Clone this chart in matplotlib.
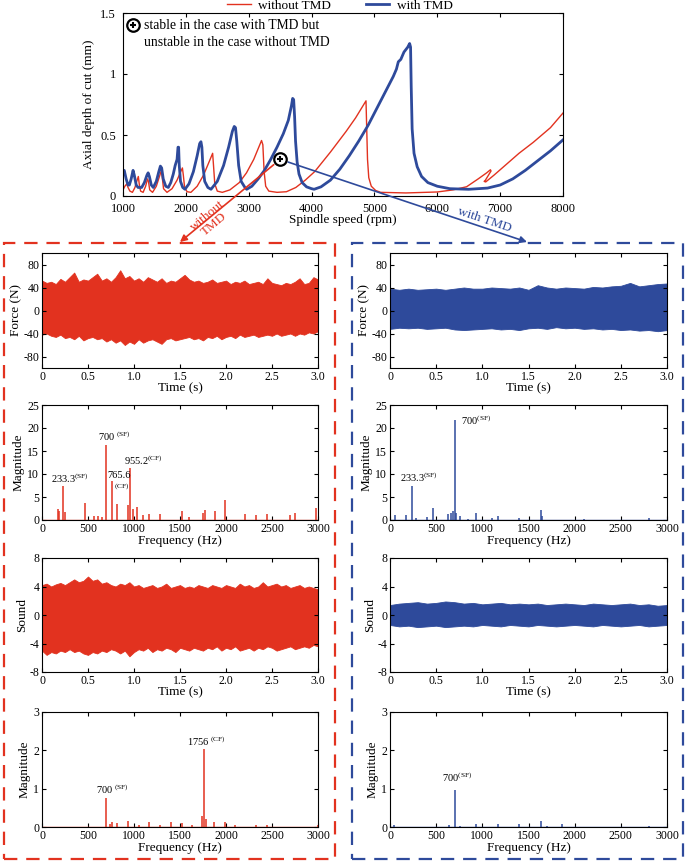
import matplotlib
matplotlib.use("Agg")
import matplotlib.pyplot as plt
from matplotlib.patches import Rectangle
from matplotlib.lines import Line2D
import numpy as np

plt.rcParams["font.family"] = ["Liberation Serif", "DejaVu Serif"]
plt.rcParams["mathtext.fontset"] = "custom"
plt.rcParams["mathtext.rm"] = "Liberation Serif"
plt.rcParams["axes.unicode_minus"] = False

RED = "#E2321F"
BLUE = "#2E4A9B"

# ---- stability lobes (rpm, mm) ----
red_rpm = [1000, 1030, 1060, 1080, 1110, 1150, 1190, 1225, 1244, 1258, 1280, 1320, 1360, 1390,
           1405, 1425, 1470, 1530, 1580, 1611, 1625, 1645, 1700, 1780, 1860, 1910, 1945, 1960,
           1980, 2020, 2080, 2180, 2280, 2370, 2426, 2440, 2460, 2500, 2580, 2700, 2850, 2965,
           3080, 3160, 3204, 3225, 3245, 3270, 3320, 3450, 3600, 3750, 3900, 4050, 4300, 4550,
           4700, 4866, 4875, 4890, 4910, 4950, 5020, 5100, 5500, 6000, 6250, 6467, 6650, 6786,
           6845, 6855, 6760, 6745, 6770, 6900, 7100, 7300, 7527, 7800, 8000]
red_depth = [0.05, 0.08, 0.10, 0.07, 0.04, 0.03, 0.07, 0.13, 0.16, 0.10, 0.04, 0.03, 0.08, 0.14,
             0.12, 0.05, 0.03, 0.08, 0.16, 0.21, 0.15, 0.06, 0.03, 0.06, 0.13, 0.19, 0.23, 0.17,
             0.07, 0.035, 0.03, 0.08, 0.17, 0.28, 0.35, 0.25, 0.10, 0.04, 0.03, 0.05, 0.11, 0.19,
             0.30, 0.40, 0.455, 0.42, 0.20, 0.08, 0.04, 0.03, 0.035, 0.07, 0.13, 0.20, 0.36, 0.53,
             0.64, 0.78, 0.60, 0.30, 0.15, 0.08, 0.045, 0.03, 0.025, 0.033, 0.05, 0.076, 0.14, 0.19,
             0.215, 0.205, 0.125, 0.12, 0.115, 0.17, 0.26, 0.35, 0.44, 0.56, 0.68]

blue_rpm = [1000, 1020, 1050, 1080, 1101, 1130, 1160, 1180, 1210, 1240, 1297, 1340, 1380, 1400,
            1420, 1450, 1482, 1530, 1570, 1595, 1615, 1640, 1680, 1721, 1760, 1800, 1830, 1860,
            1875, 1885, 1895, 1915, 1950, 1986, 2050, 2120, 2180, 2220, 2240, 2255, 2270, 2300,
            2350, 2400, 2500, 2600, 2680, 2740, 2770, 2790, 2810, 2840, 2880, 2940, 2968, 3050,
            3150, 3250, 3350, 3450, 3550, 3630, 3680, 3699, 3715, 3730, 3745, 3770, 3800, 3850,
            3920, 4000, 4040, 4150, 4300, 4450, 4600, 4750, 4900, 5050, 5200, 5300, 5350, 5380,
            5420, 5470, 5530, 5560, 5575, 5585, 5600, 5630, 5680, 5750, 5850, 6000, 6200, 6500,
            6800, 7000, 7200, 7400, 7600, 7800, 8000]
blue_depth = [0.20, 0.21, 0.14, 0.09, 0.09, 0.14, 0.21, 0.17, 0.09, 0.07, 0.07, 0.11, 0.17, 0.19,
              0.16, 0.09, 0.07, 0.12, 0.20, 0.245, 0.23, 0.14, 0.08, 0.07, 0.11, 0.18, 0.25, 0.30,
              0.40, 0.40, 0.25, 0.12, 0.07, 0.055, 0.10, 0.20, 0.33, 0.43, 0.445, 0.40, 0.25, 0.12,
              0.07, 0.055, 0.12, 0.25, 0.40, 0.53, 0.57, 0.56, 0.45, 0.25, 0.12, 0.07, 0.055, 0.08,
              0.14, 0.21, 0.30, 0.40, 0.51, 0.62, 0.74, 0.80, 0.79, 0.65, 0.45, 0.28, 0.18, 0.11,
              0.075, 0.06, 0.055, 0.075, 0.13, 0.22, 0.33, 0.45, 0.58, 0.73, 0.88, 0.98, 1.04, 1.10,
              1.12, 1.18, 1.22, 1.25, 1.22, 0.90, 0.55, 0.35, 0.24, 0.16, 0.11, 0.08, 0.06, 0.055,
              0.065, 0.09, 0.14, 0.21, 0.29, 0.37, 0.46]

test_rpm, test_depth = 3500, 0.30

# ---- time signal envelopes ----
t_fine = np.linspace(0, 3.0, 61)
t_coarse = np.linspace(0, 3.0, 31)

force_red_up = [52, 48, 50, 46, 55, 50, 58, 66, 50, 54, 52, 58, 64, 52, 56, 50, 58, 70, 56, 60,
                52, 56, 50, 58, 54, 50, 56, 48, 52, 50, 56, 62, 54, 50, 52, 48, 50, 54, 48, 50,
                52, 46, 50, 48, 52, 46, 48, 50, 46, 56, 48, 46, 44, 48, 46, 50, 56, 46, 48, 58, 54]
force_red_lo = [-42, -40, -44, -46, -42, -48, -46, -50, -44, -52, -48, -46, -50, -48, -54, -50,
                -56, -52, -60, -54, -58, -50, -56, -52, -50, -54, -58, -50, -48, -52, -50, -48,
                -46, -50, -48, -52, -46, -48, -44, -50, -46, -44, -48, -42, -46, -44, -42, -46,
                -44, -42, -44, -40, -44, -42, -40, -44, -40, -42, -38, -40, -36]

sound_red_up = [4.2, 4.4, 4.0, 4.3, 4.5, 4.2, 4.6, 5.0, 4.6, 4.8, 5.4, 4.8, 5.0, 4.4, 4.6, 4.2,
                4.0, 4.4, 4.2, 4.6, 4.0, 4.2, 3.8, 4.0, 4.2, 3.8, 4.0, 4.4, 3.8, 4.0, 4.2, 3.8,
                4.0, 3.8, 4.2, 4.0, 3.8, 4.2, 4.0, 3.8, 4.2, 4.0, 3.8, 4.4, 4.0, 4.2, 3.8, 4.0,
                4.6, 4.0, 4.2, 4.4, 4.0, 4.2, 3.8, 4.0, 4.2, 3.8, 4.0, 3.8, 3.6]
sound_red_lo = [-5.0, -5.6, -5.2, -5.4, -5.0, -5.2, -4.8, -5.2, -5.0, -5.4, -5.6, -5.2, -5.4,
                -5.0, -5.2, -4.8, -5.0, -5.4, -5.0, -5.8, -5.2, -4.8, -5.0, -4.6, -5.2, -4.8,
                -5.0, -4.6, -4.8, -5.2, -4.6, -4.8, -5.0, -4.6, -4.8, -5.0, -4.6, -4.8, -4.4,
                -5.0, -4.6, -4.8, -4.4, -5.0, -4.8, -4.6, -5.0, -4.6, -4.8, -4.4, -4.6, -5.0,
                -4.8, -4.6, -4.4, -4.8, -4.6, -4.4, -4.6, -4.2, -4.4]

force_blue_up = [38, 36, 38, 36, 37, 38, 36, 38, 40, 38, 38, 40, 39, 38, 40, 36, 44, 40, 38, 40,
                 39, 38, 41, 40, 42, 43, 48, 42, 44, 46, 47]
force_blue_lo = [-32, -30, -31, -30, -32, -31, -30, -33, -34, -33, -32, -31, -33, -32, -34, -31,
                 -30, -32, -29, -31, -30, -32, -31, -33, -32, -34, -33, -35, -34, -36, -34]

sound_blue_up = [1.4, 1.6, 1.7, 1.8, 1.6, 1.7, 1.9, 1.8, 1.6, 1.7, 1.5, 1.6, 1.7, 1.5, 1.6, 1.5,
                 1.6, 1.4, 1.5, 1.6, 1.5, 1.4, 1.6, 1.5, 1.4, 1.5, 1.6, 1.4, 1.5, 1.3, 1.4]
sound_blue_lo = [-1.4, -1.6, -1.5, -1.7, -1.6, -1.5, -1.7, -1.6, -1.5, -1.6, -1.4, -1.5, -1.6,
                 -1.4, -1.5, -1.6, -1.4, -1.5, -1.6, -1.5, -1.4, -1.5, -1.6, -1.4, -1.5, -1.6,
                 -1.5, -1.4, -1.6, -1.5, -1.4]

# ---- spectrum peaks (Hz, magnitude) ----
fspec_red_f = [0, 170, 190, 233, 250, 466, 560, 610, 650, 700, 765, 820, 930, 955, 990, 1030,
               1100, 1166, 1280, 1520, 1600, 1750, 1770, 1880, 1990, 2210, 2330, 2450, 2700,
               2750, 2980]
fspec_red_m = [8.6, 2.5, 2.0, 7.4, 1.7, 3.6, 0.8, 0.8, 0.6, 16.2, 8.4, 3.5, 3.3, 11.3, 2.3, 2.8,
               1.0, 1.3, 1.2, 1.9, 0.6, 1.5, 2.2, 1.9, 4.3, 1.3, 1.0, 1.4, 1.0, 1.5, 2.6]

fspec_blue_f = [0, 50, 170, 233, 280, 400, 466, 630, 660, 680, 700, 720, 760, 850, 933, 1100,
                1166, 1400, 1630, 1650, 2100, 2800]
fspec_blue_m = [8.5, 1.1, 1.0, 7.3, 0.4, 0.7, 2.7, 1.2, 1.5, 2.0, 21.8, 1.6, 0.8, 0.3, 1.6, 0.5,
                0.8, 0.4, 2.2, 0.8, 0.2, 0.5]

sspec_red_f = [700, 740, 760, 820, 930, 1050, 1166, 1280, 1400, 1520, 1630, 1740, 1756, 1780,
               1870, 1990, 2100, 2330, 2450, 3000]
sspec_red_m = [0.76, 0.08, 0.13, 0.10, 0.16, 0.05, 0.12, 0.05, 0.12, 0.11, 0.05, 0.3, 2.04, 0.2,
               0.12, 0.13, 0.04, 0.05, 0.04, 0.04]

sspec_blue_f = [40, 640, 700, 760, 930, 1166, 1400, 1630, 1700, 1860, 2800]
sspec_blue_m = [0.05, 0.06, 0.97, 0.03, 0.08, 0.08, 0.08, 0.15, 0.03, 0.07, 0.02]

W, H = 685, 864
fig = plt.figure(figsize=(W / 100, H / 100), dpi=100)


def px_axes(l, t, r, b):
    return fig.add_axes([l / W, 1 - b / H, (r - l) / W, (b - t) / H])


def style(ax, fs=8.5):
    ax.tick_params(direction="in", top=True, right=True, labelsize=fs, length=3, pad=2)
    for s in ax.spines.values():
        s.set_linewidth(0.8)


# ---- top: stability lobes ----
ax0 = px_axes(123, 13, 563, 196)
ax0.plot(red_rpm, red_depth, color=RED, lw=1.0)
ax0.plot(blue_rpm, blue_depth, color=BLUE, lw=2.0)
ax0.set_xlim(1000, 8000)
ax0.set_ylim(0, 1.5)
ax0.set_xticks(range(1000, 8001, 1000))
ax0.set_yticks([0, 0.5, 1, 1.5])
ax0.set_yticklabels(["0", "0.5", "1", "1.5"])
ax0.set_xlabel("Spindle speed (rpm)", fontsize=9.5, labelpad=-1)
ax0.set_ylabel("Axial depth of cut (mm)", fontsize=9.5, labelpad=4)
style(ax0, 9)
ax0.tick_params(axis="x", pad=5)
ax0.tick_params(axis="y", pad=5)
for x, y in [(test_rpm, test_depth), (1164, 1.40)]:
    ax0.plot(x, y, "o", ms=9, mfc="white", mec="black", mew=1.6, zorder=6)
    ax0.plot(x, y, "+", ms=5, color="black", mew=1.5, zorder=7)
ax0.text(1330, 1.40, "stable in the case with TMD but", fontsize=9.8, va="center")
ax0.text(1330, 1.26, "unstable in the case without TMD", fontsize=9.8, va="center")

handles = [Line2D([], [], color=RED, lw=1.0), Line2D([], [], color=BLUE, lw=2.0)]
fig.legend(handles, ["without TMD", "with TMD"], loc="center", ncol=2, frameon=False,
           bbox_to_anchor=(340 / W, 1 - 6 / H), fontsize=9.5, handlelength=1.8,
           columnspacing=2.6, borderpad=0, handletextpad=0.6)

# arrows from test point to panels
for dest, col in [((180, 242), RED), ((527, 242), BLUE)]:
    ax0.annotate("", xy=(dest[0] / W, 1 - dest[1] / H), xycoords="figure fraction",
                 xytext=(test_rpm, test_depth), textcoords="data",
                 arrowprops=dict(arrowstyle="-|>", color=col, lw=1.2, mutation_scale=10,
                                 shrinkA=6, shrinkB=0), annotation_clip=False)
fig.text(211 / W, 1 - 220 / H, "without\nTMD", color=RED, fontsize=9.5, rotation=40,
         ha="center", va="center", linespacing=0.9)
fig.text(484 / W, 1 - 220 / H, "with TMD", color=BLUE, fontsize=9.5, rotation=-18.5,
         ha="center", va="center")

# dashed frames
for (l, r), col in [((4, 335), RED), ((352, 683), BLUE)]:
    fig.patches.append(Rectangle((l / W, 1 - 859 / H), (r - l) / W, (859 - 243) / H,
                                 transform=fig.transFigure, fill=False, ec=col, lw=1.6,
                                 ls=(0, (6, 4)), zorder=0))

rows = [(253, 368), (405, 520), (558, 672), (712, 827)]
cols = [(42, 318), (390, 667)]

time_ticks = [0, 0.5, 1.0, 1.5, 2.0, 2.5, 3.0]
time_labels = ["0", "0.5", "1.0", "1.5", "2.0", "2.5", "3.0"]


def time_panel(ax, t, up, lo, col, ylim, yticks, ylabel):
    ax.fill_between(t, lo, up, color=col, lw=0.6, edgecolor=col)
    ax.set_xlim(0, 3.0)
    ax.set_ylim(*ylim)
    ax.set_xticks(time_ticks)
    ax.set_xticklabels(time_labels)
    ax.set_yticks(yticks)
    ax.set_xlabel("Time (s)", fontsize=9.5, labelpad=0)
    ax.set_ylabel(ylabel, fontsize=9.5, labelpad=1)
    style(ax)


def spec_panel(ax, f, m, col, ymax, yticks, labels):
    ax.axhline(0.004 * ymax, color=col, lw=1.0)
    ax.vlines(f, 0, m, color=col, lw=1.1)
    ax.set_xlim(0, 3000)
    ax.set_ylim(0, ymax)
    ax.set_xticks(range(0, 3001, 500))
    ax.set_yticks(yticks)
    ax.set_xlabel("Frequency (Hz)", fontsize=9.5, labelpad=0)
    ax.set_ylabel("Magnitude", fontsize=9.5, labelpad=2)
    for x, y, s in labels:
        ax.text(x, y, s, fontsize=7.5, ha="left", va="bottom")
    style(ax)


# left column: without TMD
l, r = cols[0]
a = px_axes(l, rows[0][0], r, rows[0][1])
time_panel(a, t_fine, force_red_up, force_red_lo, RED, (-100, 100), [-80, -40, 0, 40, 80], "Force (N)")
a = px_axes(l, rows[1][0], r, rows[1][1])
spec_panel(a, fspec_red_f, fspec_red_m, RED, 25, [0, 5, 10, 15, 20, 25],
           [(98, 7.6, r"233.3$^{\mathrm{(SF)}}$"), (605, 16.8, r"700 $^{\mathrm{(SF)}}$"),
            (714, 8.7, "765.6"), (786, 6.0, r"$^{\mathrm{(CF)}}$"),
            (888, 11.6, r"955.2$^{\mathrm{(CF)}}$")])
a = px_axes(l, rows[2][0], r, rows[2][1])
time_panel(a, t_fine, sound_red_up, sound_red_lo, RED, (-8, 8), [-8, -4, 0, 4, 8], "Sound")
a = px_axes(l, rows[3][0], r, rows[3][1])
spec_panel(a, sspec_red_f, sspec_red_m, RED, 3, [0, 1, 2, 3],
           [(585, 0.82, r"700 $^{\mathrm{(SF)}}$"), (1572, 2.06, r"1756 $^{\mathrm{(CF)}}$")])

# right column: with TMD
l, r = cols[1]
a = px_axes(l, rows[0][0], r, rows[0][1])
time_panel(a, t_coarse, force_blue_up, force_blue_lo, BLUE, (-100, 100), [-80, -40, 0, 40, 80], "Force (N)")
a = px_axes(l, rows[1][0], r, rows[1][1])
spec_panel(a, fspec_blue_f, fspec_blue_m, BLUE, 25, [0, 5, 10, 15, 20, 25],
           [(113, 7.8, r"233.3$^{\mathrm{(SF)}}$"), (766, 20.2, r"700$^{\mathrm{(SF)}}$")])
a = px_axes(l, rows[2][0], r, rows[2][1])
time_panel(a, t_coarse, sound_blue_up, sound_blue_lo, BLUE, (-8, 8), [-8, -4, 0, 4, 8], "Sound")
a = px_axes(l, rows[3][0], r, rows[3][1])
spec_panel(a, sspec_blue_f, sspec_blue_m, BLUE, 3, [0, 1, 2, 3],
           [(562, 1.12, r"700$^{\mathrm{(SF)}}$")])

fig.savefig("out.png", dpi=100)
